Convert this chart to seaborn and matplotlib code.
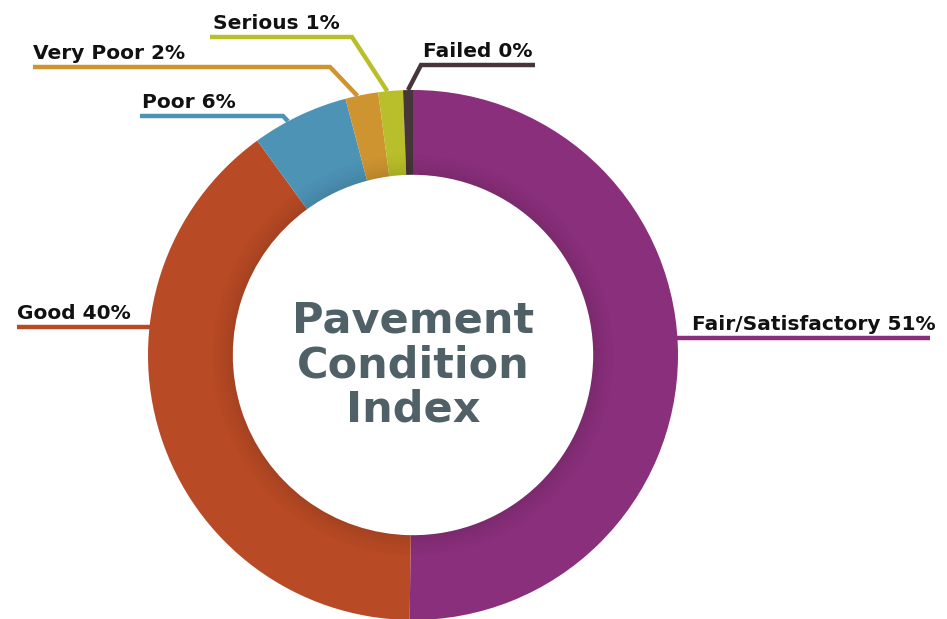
import numpy as np
import seaborn as sns
from matplotlib import pyplot as plt
from matplotlib.patches import Wedge

sns.set_theme(style='white')
plt.rcParams['font.family'] = ['DejaVu Sans']

# data (percent of network), clockwise from 12 o'clock
categories = ['Fair/Satisfactory', 'Good', 'Poor', 'Very Poor', 'Serious', 'Failed']
shares = [50.2, 39.8, 5.9, 2.0, 1.5, 0.6]
shown_pct = [51, 40, 6, 2, 1, 0]
colors = ['#8A2F7B', '#B84A25', '#4D93B6', '#CD9430', '#B9BF2A', '#46363A']

# label layout in pixels (y measured from top): line start/end, line y, elbow x, text x
label_layout = {
    'Fair/Satisfactory': dict(x0=None, x1=930, y=338, elbow=None, tx=692),
    'Good': dict(x0=17, x1=None, y=327, elbow=None, tx=17),
    'Poor': dict(x0=140, x1=283, y=116, elbow=283, tx=142),
    'Very Poor': dict(x0=33, x1=330, y=67, elbow=330, tx=33),
    'Serious': dict(x0=210, x1=352, y=37, elbow=352, tx=213),
    'Failed': dict(x0=421, x1=535, y=65, elbow=421, tx=423),
}

W, H = 947, 619
cx, cy, R = 413, H - 355, 265
ring = R * 0.32

fig = plt.figure(figsize=(W / 100, H / 100), dpi=100)
ax = fig.add_axes([0, 0, 1, 1])
wedges, _ = ax.pie(shares, colors=colors, startangle=90, counterclock=False,
                   radius=R, center=(cx, cy),
                   wedgeprops=dict(width=ring, linewidth=0))

# soft inner shadow on the ring
r_in = R - ring
for i in range(14):
    ax.add_patch(Wedge((cx, cy), r_in + (i + 1) * 1.6, 0, 360, width=1.6,
                       facecolor='black', alpha=0.10 * (1 - i / 14) ** 1.5, lw=0))

ax.set_xlim(0, W)
ax.set_ylim(0, H)
ax.set_aspect('equal')
ax.axis('off')

lw = 3.2
for w, cat, pct, col in zip(wedges, categories, shown_pct, colors):
    lay = label_layout[cat]
    ly = H - lay['y']
    if cat in ('Fair/Satisfactory', 'Good'):
        # straight line touching the ring
        dx = np.sqrt(R ** 2 - (ly - cy) ** 2)
        if cat == 'Good':
            xs, ys = [lay['x0'], cx - dx + 2], [ly, ly]
        else:
            xs, ys = [cx + dx - 2, lay['x1']], [ly, ly]
    else:
        frac = 0.5 if cat == 'Failed' else 0.63
        ang = np.deg2rad(w.theta1 + frac * (w.theta2 - w.theta1))
        ex, ey = cx + R * np.cos(ang), cy + R * np.sin(ang)
        start = lay['x1'] if cat == 'Failed' else lay['x0']
        xs, ys = [start, lay['elbow'], ex], [ly, ly, ey]
    ax.plot(xs, ys, color=col, lw=lw, solid_capstyle='butt', solid_joinstyle='miter')
    ax.text(lay['tx'], ly + 4, f'{cat} {pct}%', ha='left', va='bottom',
            fontsize=14.5, fontweight='bold', color='#111111')

ax.text(cx, cy - 10, 'Pavement\nCondition\nIndex', ha='center', va='center',
        fontsize=31, fontweight='heavy', color='#4F6067', linespacing=1.08)

plt.savefig('out.png', dpi=100)
